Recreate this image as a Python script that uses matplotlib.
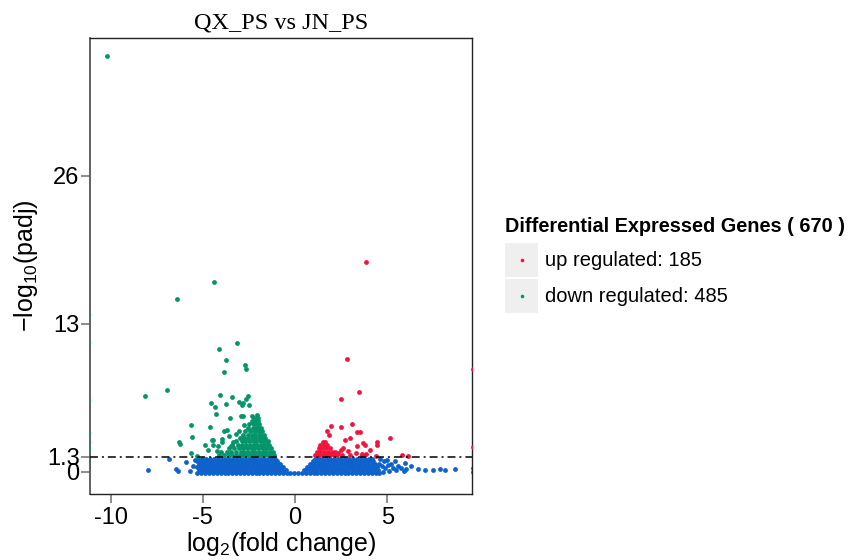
import matplotlib
matplotlib.use('Agg')
import matplotlib.pyplot as plt
from matplotlib.patches import Rectangle
from matplotlib.lines import Line2D

plt.rcParams['font.family'] = ['Liberation Sans', 'DejaVu Sans']
plt.rcParams['axes.unicode_minus'] = False
plt.rcParams['mathtext.fontset'] = 'custom'
plt.rcParams['mathtext.rm'] = 'Liberation Sans'
plt.rcParams['mathtext.it'] = 'Liberation Sans'

# colours
UP_COLOR = '#f2143c'
DOWN_COLOR = '#05956a'
NS_COLOR = '#0d62cb'

# threshold line and ticks
padj_line = 1.3
x_ticks = [-10, -5, 0, 5]
y_ticks = [0, 1.3, 13, 26]
y_tick_labels = ['0', '1.3', '13', '26']

n_up = 185
n_down = 485

# ---- not significant genes (dense band, one row of x values per y level) ----
blue_rows = [
    (-0.08, [-5.3, -5.08, -4.87, -4.66, -4.45, -4.24, -4.03, -3.82, -3.61, -3.4, -3.19, -2.98,
             -2.77, -2.56, -2.35, -2.14, -1.93, -1.72, -1.51, -1.3, -1.09, -0.88, -0.67, -0.46,
             -0.25, -0.04, 0.17, 0.38, 0.59, 0.8, 1.01, 1.22, 1.43, 1.64, 1.85, 2.06, 2.27, 2.48,
             2.69, 2.9, 3.11, 3.32, 3.53, 3.74, 3.95, 4.16, 4.37, 4.58]),
    (0.17, [-5.2, -4.98, -4.76, -4.55, -4.34, -4.13, -3.92, -3.71, -3.5, -3.29, -3.08, -2.87,
            -2.66, -2.45, -2.24, -2.03, -1.82, -1.61, -1.4, -1.19, -0.98, -0.8, -0.62, -0.48,
            0.48, 0.62, 0.8, 0.98, 1.18, 1.39, 1.6, 1.81, 2.02, 2.23, 2.44, 2.65, 2.86, 3.07,
            3.28, 3.49, 3.7, 3.91, 4.12, 4.33, 4.52]),
    (0.42, [-5.3, -5.08, -4.87, -4.66, -4.45, -4.24, -4.03, -3.82, -3.61, -3.4, -3.19, -2.98,
            -2.77, -2.56, -2.35, -2.14, -1.93, -1.72, -1.51, -1.3, -1.1, -0.92, -0.78, -0.66,
            0.66, 0.78, 0.93, 1.1, 1.29, 1.5, 1.71, 1.92, 2.13, 2.34, 2.55, 2.76, 2.97, 3.18,
            3.39, 3.6, 3.81, 4.02, 4.23, 4.44]),
    (0.67, [-5.22, -5.0, -4.78, -4.57, -4.36, -4.15, -3.94, -3.73, -3.52, -3.31, -3.1, -2.89,
            -2.68, -2.47, -2.26, -2.05, -1.84, -1.63, -1.42, -1.22, -1.05, -0.92, -0.82,
            0.82, 0.93, 1.06, 1.23, 1.42, 1.63, 1.84, 2.05, 2.26, 2.47, 2.68, 2.89, 3.1, 3.31,
            3.52, 3.73, 3.94, 4.15, 4.36]),
    (0.92, [-5.3, -5.08, -4.87, -4.66, -4.45, -4.24, -4.03, -3.82, -3.61, -3.4, -3.19, -2.98,
            -2.77, -2.56, -2.35, -2.14, -1.93, -1.72, -1.51, -1.32, -1.15, -1.04, -0.95,
            0.95, 1.05, 1.18, 1.35, 1.53, 1.72, 1.93, 2.14, 2.35, 2.56, 2.77, 2.98, 3.19, 3.4,
            3.61, 3.82, 4.03, 4.24]),
    (1.15, [-5.25, -5.03, -4.82, -4.61, -4.4, -4.19, -3.98, -3.77, -3.56, -3.35, -3.14, -2.93,
            -2.72, -2.51, -2.3, -2.09, -1.88, -1.67, -1.46, -1.3, -1.18, -1.08,
            1.08, 1.18, 1.32, 1.49, 1.68, 1.89, 2.1, 2.31, 2.52, 2.73, 2.94, 3.15, 3.36, 3.57,
            3.78, 3.99, 4.2]),
]
blue_extra_x = [-7.95, -6.81, -6.45, -6.33, -5.91, -5.69, -5.55, -5.45,
                4.6, 4.8, 5.0, 5.2, 5.4, 5.6, 4.7, 4.9, 5.1, 5.3, 5.5, 5.75, 5.9, 4.55, 5.05, 4.75,
                6.02, 5.96, 6.3, 6.65, 7.07, 7.5, 7.86, 8.13, 8.68,
                -11.2, -11.2, -11.2, 9.65, 9.65]
blue_extra_y = [0.18, 1.12, 0.24, 0.03, 0.82, 0.08, 0.5, 1.0,
                1.1, 0.9, 1.05, 0.7, 0.95, 0.5, 0.5, 0.3, 0.1, 0.35, 0.15, 0.3, 0.05, 0.7, 0.55, -0.05,
                0.2, 0.76, 0.5, 0.2, 0.18, 0.16, 0.2, 0.18, 0.22,
                0.4, 0.8, 1.1, 0.0, 0.3]

# ---- down regulated genes ----
green_rows = [
    (1.45, [-4.1, -3.85, -3.6, -3.4, -3.2, -3.0, -2.8, -2.6, -2.4, -2.2, -2.0, -1.8, -1.6, -1.4,
            -1.25, -1.12]),
    (1.75, [-4.0, -3.7, -3.45, -3.2, -2.95, -2.75, -2.55, -2.35, -2.15, -1.95, -1.75, -1.55,
            -1.38, -1.22]),
    (2.05, [-3.6, -3.3, -3.05, -2.8, -2.6, -2.4, -2.2, -2.0, -1.8, -1.6, -1.44, -1.3]),
    (2.35, [-3.4, -3.1, -2.85, -2.65, -2.45, -2.25, -2.05, -1.85, -1.68, -1.52, -1.4]),
    (2.65, [-3.2, -2.9, -2.7, -2.5, -2.3, -2.1, -1.9, -1.74, -1.6, -1.48]),
    (2.95, [-3.0, -2.75, -2.55, -2.35, -2.15, -1.95, -1.8, -1.62]),
    (3.25, [-2.8, -2.55, -2.35, -2.15, -1.97, -1.82, -1.68]),
    (3.55, [-2.7, -2.45, -2.25, -2.05, -1.9, -1.77]),
    (3.85, [-2.55, -2.3, -2.1, -1.96, -1.85]),
    (4.15, [-2.5, -2.25, -2.08, -1.94]),
    (4.45, [-2.35, -2.15, -2.02]),
    (4.75, [-2.2, -2.06]),
]
green_extra_x = [-10.2, -4.41, -6.38, -3.15, -4.14, -3.72, -3.85, -2.71, -2.67, -8.15, -6.94,
                 -4.08, -3.40, -2.57, -2.66, -4.54, -4.34, -4.30, -3.76, -3.02, -2.80, -2.48,
                 -2.89, -3.52, -2.84, -2.35, -2.08, -1.99, -2.95, -2.77, -2.26, -5.66, -5.57,
                 -6.31, -6.25, -4.63, -3.85, -3.70, -3.02, -4.52, -4.9, -5.66, -5.3, -4.43,
                 -4.46, -4.16, -3.98, -3.49, -3.35, -3.6, -4.7, -4.25, -3.95, -3.2,
                 -11.25, -11.25, -11.25, -11.25, -11.25, -11.25]
green_extra_y = [36.5, 16.7, 15.2, 11.3, 10.8, 9.84, 8.79, 9.4, 9.0, 6.68, 7.14,
                 6.74, 6.56, 6.65, 6.39, 6.06, 5.65, 5.10, 5.92, 6.15, 6.0, 5.86,
                 5.89, 4.74, 4.86, 4.86, 5.0, 4.72, 4.86, 4.07, 4.28, 4.10, 3.05,
                 2.58, 2.45, 3.93, 3.6, 3.63, 3.54, 2.81, 2.37, 1.6, 1.35, 2.75,
                 2.37, 2.23, 2.58, 2.23, 2.58, 3.1, 1.9, 1.8, 2.9, 3.3,
                 13.86, 11.36, 6.33, 3.37, 2.58, 2.1]

# ---- up regulated genes ----
red_rows = [
    (1.45, [1.1, 1.3, 1.5, 1.7, 1.9, 2.1, 2.3, 2.55]),
    (1.75, [1.18, 1.38, 1.58, 1.78, 1.98, 2.15]),
    (2.05, [1.28, 1.48, 1.68, 1.88]),
    (2.35, [1.38, 1.55, 1.75]),
    (2.62, [1.5, 1.62]),
]
red_extra_x = [3.87, 2.80, 3.45, 2.49, 1.97, 2.48, 3.11, 1.75, 1.85, 3.34, 3.52, 2.73, 2.98,
               3.71, 3.80, 3.36, 4.43, 4.45, 5.17, 3.65, 2.89, 3.31, 3.61, 3.85, 4.07, 2.35,
               4.39, 5.79, 6.13, 2.47, 3.0, 2.6, 9.65, 9.65]
red_extra_y = [18.45, 9.93, 6.97, 6.36, 3.98, 3.92, 4.16, 3.54, 3.19, 3.5, 3.45, 2.81, 2.92,
               2.49, 2.3, 2.28, 2.64, 2.31, 2.96, 1.55, 1.79, 1.64, 1.49, 1.58, 1.87, 1.64,
               1.35, 1.43, 1.4, 1.9, 1.45, 2.1, 9.05, 2.2]


def unpack(rows, extra_x, extra_y):
    xs, ys = [], []
    for y, row in rows:
        xs += row
        ys += [y] * len(row)
    return xs + extra_x, ys + extra_y


fig = plt.figure(figsize=(8.61, 5.6), dpi=100)
ax = fig.add_axes([0.1045, 0.1179, 0.4437, 0.8143])

pt = 12
bx, by = unpack(blue_rows, blue_extra_x, blue_extra_y)
gx, gy = unpack(green_rows, green_extra_x, green_extra_y)
rx, ry = unpack(red_rows, red_extra_x, red_extra_y)
ax.scatter(bx, by, s=pt, color=NS_COLOR, linewidths=0, zorder=2)
ax.scatter(gx, gy, s=pt, color=DOWN_COLOR, linewidths=0, zorder=3)
ax.scatter(rx, ry, s=pt, color=UP_COLOR, linewidths=0, zorder=3)

ax.axhline(padj_line, color='black', lw=1.1, linestyle=(0, (5.2, 2.6, 1.3, 2.6)), zorder=4)

ax.set_xlim(-11.12, 9.6)
ax.set_ylim(-1.96, 38.09)
ax.set_xticks(x_ticks)
ax.set_xticklabels([str(t) for t in x_ticks])
ax.set_yticks(y_ticks)
ax.set_yticklabels(y_tick_labels)
ax.tick_params(direction='out', length=6.5, width=1.1, color='#6e6e6e', labelsize=17,
               labelcolor='black')
ax.tick_params(axis='x', pad=3)
ax.tick_params(axis='y', pad=1)
for s in ax.spines.values():
    s.set_color('#222222')
    s.set_linewidth(1.0)
ax.spines['left'].set_color('#555555')
ax.spines['left'].set_linewidth(1.3)

ax.set_xlabel('log$_{2}$(fold change)', fontsize=18)
ax.xaxis.set_label_coords(0.5, -0.08)
ax.set_ylabel('\u2212log$_{10}$(padj)', fontsize=18)
ax.yaxis.set_label_coords(-0.13, 0.5)
ax.set_title('QX_PS vs JN_PS', fontfamily='Liberation Serif', fontsize=17.5, pad=7)

# legend drawn in figure coordinates
fig.text(0.5865, 0.5964, 'Differential Expressed Genes ( %d )' % (n_up + n_down),
         fontsize=14.3, fontweight='bold', va='center', ha='left')
legend_items = [(UP_COLOR, 'up regulated: %d' % n_up, 0.5054),
                (DOWN_COLOR, 'down regulated: %d' % n_down, 0.4411)]
for color, label, y0 in legend_items:
    fig.add_artist(Rectangle((0.5865, y0), 0.0383, 0.0607, transform=fig.transFigure,
                             facecolor='#efefef', edgecolor='none'))
    fig.add_artist(Line2D([0.6057], [y0 + 0.0303], transform=fig.transFigure, marker='o',
                          markersize=2.6, color=color, markeredgewidth=0, linestyle='none'))
    fig.text(0.633, y0 + 0.0303, label, fontsize=14.5, va='center', ha='left')

fig.savefig('out.png', dpi=100)
